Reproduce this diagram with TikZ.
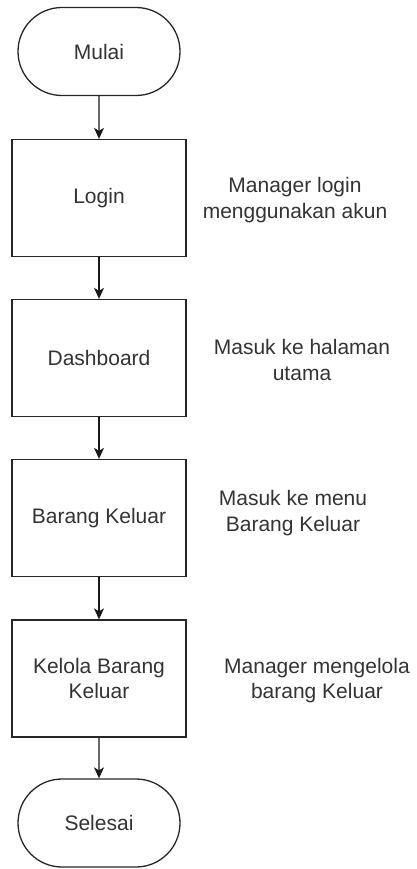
\documentclass[tikz,border=0pt]{standalone}
\usepackage{fontspec}
\setmainfont{Liberation Sans}
\usetikzlibrary{arrows.meta,shapes.misc}
\definecolor{txt}{RGB}{51,51,51}
\begin{document}
\begin{tikzpicture}[x=1pt,y=-1pt,
  every node/.style={font=\fontsize{21}{25.5}\selectfont, text=txt},
  procbox/.style={draw=black!85, line width=1.3pt, fill=white, minimum width=174pt, minimum height=117pt, inner sep=0pt, align=center},
  termbox/.style={draw=black!85, line width=1.3pt, fill=white, rounded rectangle, minimum width=162pt, minimum height=88pt, inner sep=0pt},
  note/.style={align=center, inner sep=0pt},
  flow/.style={draw=black!90, line width=1.3pt, -{Stealth[length=11pt,width=10pt,inset=3pt]}}
]
\useasboundingbox (0,0) rectangle (416,869);
\node[termbox] (mulai) at (99,51.5) {Mulai};
\node[procbox] (login) at (99,198) {Login};
\node[procbox] (dash) at (99,358) {Dashboard};
\node[procbox] (barang) at (99,518) {Barang Keluar};
\node[procbox] (kelola) at (99,678.5) {Kelola Barang\\Keluar};
\node[termbox] (selesai) at (99,823) {Selesai};

\node[note] (n1) at (295,200) {Manager login\\menggunakan akun};
\node[note] (n2) at (302,360) {Masuk ke halaman\\utama};
\node[note] (n3) at (293,513) {Masuk ke menu\\Barang Keluar};
\node[note] (n4) at (317,680.5) {Manager mengelola\\barang Keluar};

\draw[flow] (mulai) -- (login);
\draw[flow] (login) -- (dash);
\draw[flow] (dash) -- (barang);
\draw[flow] (barang) -- (kelola);
\draw[flow] (kelola) -- (selesai);
\end{tikzpicture}
\end{document}
